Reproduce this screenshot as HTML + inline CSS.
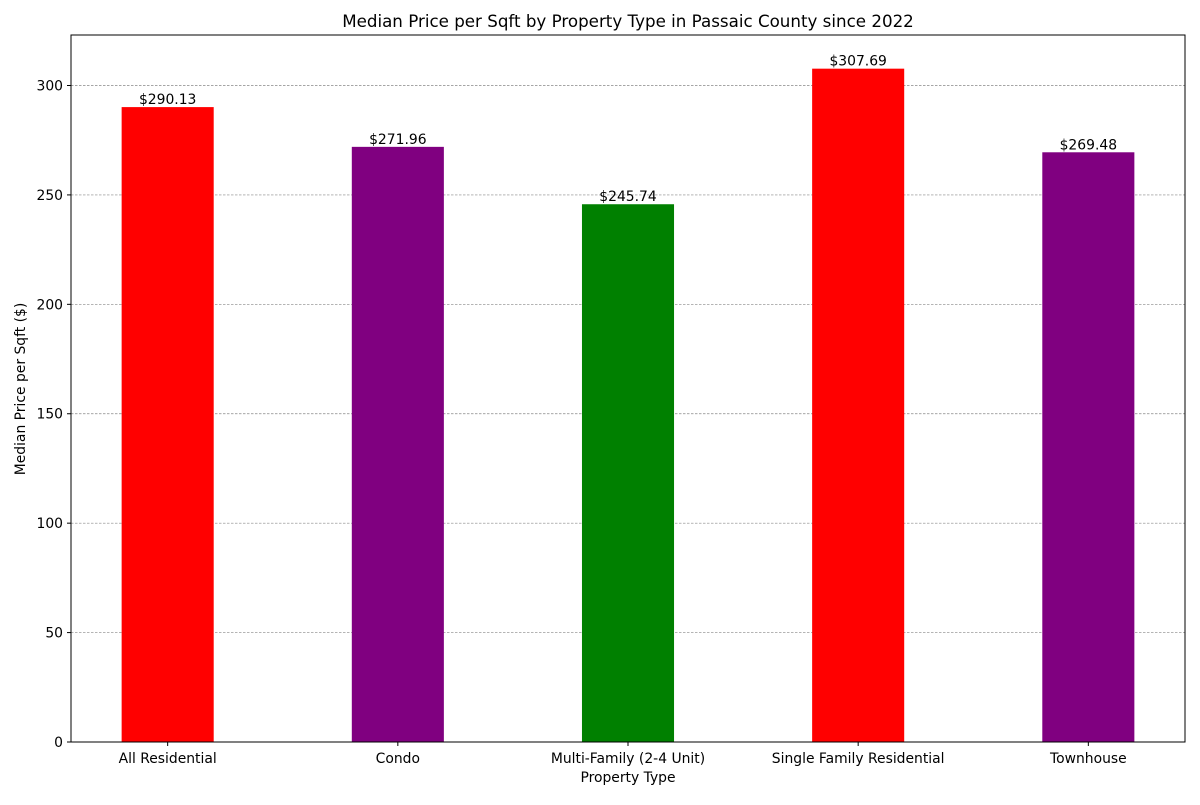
<!DOCTYPE html>
<html><head><meta charset="utf-8"><style>
body{margin:0;background:#fff;font-family:"Liberation Sans","DejaVu Sans",sans-serif;}
svg text{font-family:"DejaVu Sans","Liberation Sans",sans-serif;}
</style></head><body>
<svg id="chart" width="1200" height="800" xmlns="http://www.w3.org/2000/svg">
<rect width="1200" height="800" fill="#fff"/>
<text x="628" y="27" font-size="16.7" text-anchor="middle">Median Price per Sqft by Property Type in Passaic County since 2022</text>
<g id="grid"></g><g id="bars"></g><g id="labels"></g><g id="axes"></g>
<text x="628" y="782" font-size="13.9" text-anchor="middle">Property Type</text>
<text transform="translate(25,389) rotate(-90)" font-size="13.9" text-anchor="middle">Median Price per Sqft ($)</text>
</svg>
<script>
const categories=["All Residential","Condo","Multi-Family (2-4 Unit)","Single Family Residential","Townhouse"];
const values=[290.13,271.96,245.74,307.69,269.48];
const colors=["red","purple","green","red","purple"];
const yTicks=[0,50,100,150,200,250,300];
const L=71,R=1185,T=35,B=742;
const ymax=Math.max(...values)*1.05;
const xmin=-0.42,xmax=categories.length-1+0.42;
const xs=i=>L+(i-xmin)/(xmax-xmin)*(R-L);
const ys=v=>B-v/ymax*(B-T);
const bw=0.4*(R-L)/(xmax-xmin);
const NS="http://www.w3.org/2000/svg";
function mk(tag,attrs,parent,text){const e=document.createElementNS(NS,tag);for(const k in attrs)e.setAttribute(k,attrs[k]);if(text!==undefined)e.textContent=text;document.getElementById(parent).appendChild(e);return e;}
yTicks.forEach(t=>{
 const y=ys(t);
 if(t>0){const g=mk('line',{x1:L,x2:R,y1:y,y2:y,stroke:'#888','stroke-width':0.7,'stroke-dasharray':'2.5,1.5'},'grid');
 
 }
 const tk=mk('line',{x1:L-4,x2:L,y1:y,y2:y,stroke:'#000'},'axes');
 
 
 const lb=mk('text',{x:L-8,y:y+5,'font-size':13.9,'text-anchor':'end'},'axes',String(t));
 
 
});
categories.forEach((c,i)=>{
 const x=xs(i),y=ys(values[i]);
 const r=mk('rect',{x:x-bw/2,y:y,width:bw,height:B-y,fill:colors[i]},'bars');
 
 
 const v=mk('text',{x:x,y:y-3,'font-size':13.9,'text-anchor':'middle'},'labels','$'+values[i].toFixed(2));
 
 
 const tk=mk('line',{x1:x,x2:x,y1:B,y2:B+4,stroke:'#000'},'axes');
 
 
 const lb=mk('text',{x:x,y:B+21,'font-size':13.9,'text-anchor':'middle'},'axes',c);
 
 
});
const f=mk('rect',{x:L,y:T,width:R-L,height:B-T,fill:'none',stroke:'#000','stroke-width':1},'axes');


</script>
</body></html>
